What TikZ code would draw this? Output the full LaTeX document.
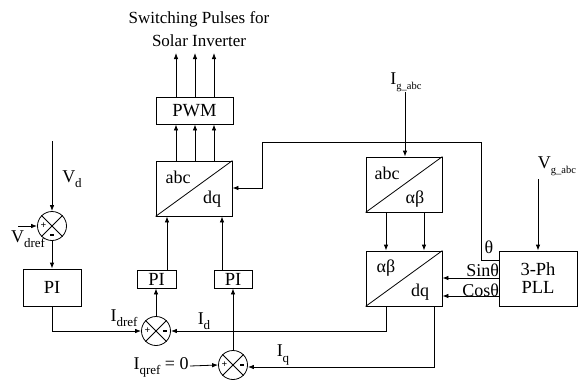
\documentclass[tikz,border=0pt]{standalone}
\usepackage{fontspec}
\setmainfont{Liberation Serif}
\usetikzlibrary{arrows.meta,calc}
\newcommand\bigsb[1]{\raisebox{-0.28em}{\fontsize{13}{13}\selectfont #1}}
\newcommand\smsb[1]{\raisebox{-0.3em}{\fontsize{10.5}{11}\selectfont #1}}
\begin{document}
\begin{tikzpicture}[x=1pt,y=-1pt,
  line width=0.8pt,
  >={Latex[length=6pt,width=4.5pt]},
  blk/.style={draw,rectangle,inner sep=0pt,font=\fontsize{18.5}{20}\selectfont},
  sumc/.style={draw,circle,minimum size=29pt,inner sep=0pt},
  sgn/.style={font=\fontsize{10}{10}\selectfont\bfseries,inner sep=0pt},
  lbl/.style={font=\fontsize{18}{20}\selectfont,inner sep=0pt},
  sublbl/.style={font=\fontsize{18}{20}\selectfont,inner sep=0pt}]
\useasboundingbox (0,0) rectangle (579,383);

% boxes
\node[blk,minimum width=77pt,minimum height=27pt] (pwm) at (194.5,110.5) {PWM};
\node[blk,minimum width=76pt,minimum height=55pt] (adq) at (194,188.5) {};
\node[blk,minimum width=58pt,minimum height=37pt] (pil) at (52,287.5) {PI};
\node[blk,minimum width=39pt,minimum height=18pt] (pi2) at (156.5,279) {PI};
\node[blk,minimum width=38pt,minimum height=18pt] (pi3) at (233,279) {PI};
\node[blk,minimum width=76pt,minimum height=55pt] (aab) at (404,184.5) {};
\node[blk,minimum width=76pt,minimum height=55pt] (abdq) at (404,278.5) {};
\node[blk,minimum width=78pt,minimum height=55pt,align=center] (pll) at (538,278.5) {3-Ph\\[-2pt]PLL};

% diagonals and inner labels
\draw (adq.south west) -- (adq.north east);
\node[lbl] (adqa) at (178,177) {abc};
\node[lbl] (adqb) at (212,199) {dq};
\draw (aab.south west) -- (aab.north east);
\node[lbl] (aaba) at (387,173) {abc};
\node[lbl] (aabb) at (415,199) {αβ};
\draw (abdq.south west) -- (abdq.north east);
\node[lbl] (abdqa) at (386,268) {αβ};
\node[lbl] (abdqb) at (420,292) {dq};

% summers
\foreach \n/\x/\y in {s1/52/226, s2/156/331, s3/233/365}{
  \node[sumc] (\n) at (\x,\y) {};
  \draw (\n.north west) -- (\n.south east) (\n.north east) -- (\n.south west);
}
\node[sgn] (s1p) at ($(s1.center)+(-8.5,0)$) {+};
\node[sgn] (s1m) at ($(s1.center)+(0,9)$) {\rule{4pt}{1.6pt}};
\node[sgn] (s2p) at ($(s2.center)+(-8.5,0)$) {+};
\node[sgn] (s2m) at ($(s2.center)+(9,0)$) {\rule{4pt}{1.6pt}};
\node[sgn] (s3p) at ($(s3.center)+(-8.5,0)$) {+};
\node[sgn] (s3m) at ($(s3.center)+(9,0)$) {\rule{4pt}{1.6pt}};

% title
\node[font=\fontsize{17}{23}\selectfont,align=center,inner sep=0pt] (title) at (199,29.5) {Switching Pulses for\\Solar Inverter};

% coordinates
\coordinate (o1) at (176,53);
\coordinate (o2) at (195,53);
\coordinate (o3) at (214,53);
\coordinate (igs) at (405,92);
\coordinate (vgs) at (538,179);
\coordinate (vds) at (52,141);
\coordinate (vdrs) at (18,226);
\coordinate (iqrs) at (190,366);

% PWM outputs
\foreach \xx/\o in {176/o1,195/o2,214/o3}{
  \draw[->] (pwm.north -| \o) -- (\o);
  \draw[->] (adq.north -| \o) -- (pwm.south -| \o);
}

% theta feedback
\draw[->] (pll.west |- 0,260) -- (481,260) -- (481,142) -- (262,142) -- (262,188) -- (adq.east |- 0,188);
\node[lbl] (th) at (489,247) {θ};

% Ig, Vg
\draw[->] (igs) -- (aab.north -| igs);
\node[sublbl] (igl) at (406,82) {I\smsb{g\_abc}};
\draw[->] (vgs) -- (pll.north -| vgs);
\node[sublbl] (vgl) at (557,166) {V\smsb{g\_abc}};

% abc/ab to ab/dq
\draw[->] (aab.south -| 386,0) -- (abdq.north -| 386,0);
\draw[->] (aab.south -| 424,0) -- (abdq.north -| 424,0);

% sin cos
\draw[->] (pll.west |- 0,278) -- (abdq.east |- 0,278);
\node[lbl,anchor=south east] (sinl) at (499.5,277) {Sinθ};
\draw[->] (pll.west |- 0,296) -- (abdq.east |- 0,296);
\node[lbl,anchor=south east] (cosl) at (499.5,297) {Cosθ};

% Id, Iq feedback
\draw[->] (abdq.south -| 386,0) -- (386,331) -- (s2.east);
\node[sublbl] (idl) at (204,321) {I\bigsb{d}};
\draw[->] (abdq.south -| 434,0) -- (434,367) -- (s3.east |- 0,367);
\node[sublbl] (iql) at (283,355) {I\bigsb{q}};

% Vd loop
\draw[->] (vds) -- (s1.north);
\node[lbl] (vdl) at (72,179) {V\bigsb{d}};
\draw[->] (vdrs) -- (s1.west);
\node[lbl] (vdrl) at (28,239) {V\bigsb{dref}};
\draw[->] (s1.south) -- (pil.north);
\draw[->] (pil.south) -- (52,331) -- (s2.west);
\node[sublbl] (idrl) at (124,318) {I\bigsb{dref}};

% current loops
\draw[->] (s2.north) -- (pi2.south -| s2.north);
\draw[->] (pi2.north -| 167,0) -- (adq.south -| 167,0);
\draw[->] (s3.north) -- (pi3.south -| s3.north);
\draw[->] (pi3.north -| 222,0) -- (adq.south -| 222,0);
\draw[->] (iqrs) -- (s3.west);
\node[sublbl,anchor=east] (iqrl) at (189,367) {I\bigsb{qref} = 0};
\end{tikzpicture}
\end{document}
